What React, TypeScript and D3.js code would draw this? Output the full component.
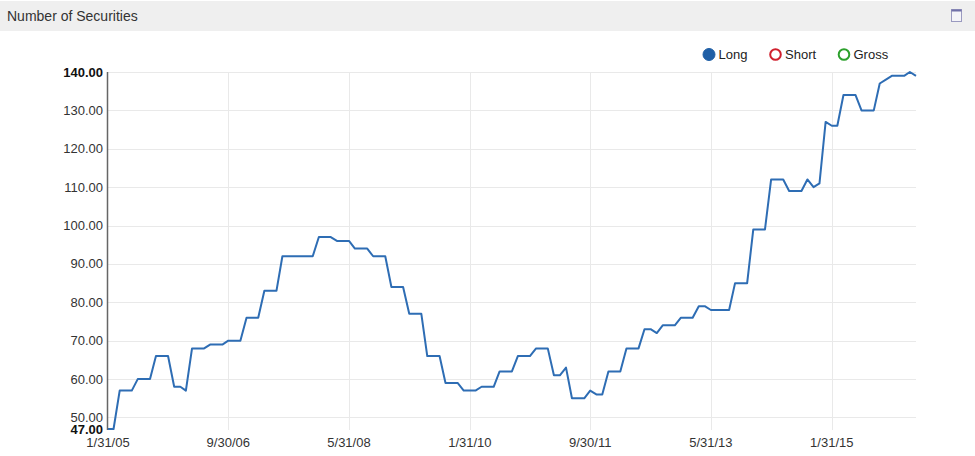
import React from "react";
import * as d3 from "d3";

const TITLE = "Number of Securities";
const START_MONTH_END = "2005-01-31";
const LONG_VALUES: number[] = [
  47, 47, 57, 57, 57, 60, 60, 60, 66, 66, 66, 58, 58, 57, 68, 68, 68, 69, 69, 69,
  70, 70, 70, 76, 76, 76, 83, 83, 83, 92, 92, 92, 92, 92, 92, 97, 97, 97, 96, 96,
  96, 94, 94, 94, 92, 92, 92, 84, 84, 84, 77, 77, 77, 66, 66, 66, 59, 59, 59, 57,
  57, 57, 58, 58, 58, 62, 62, 62, 66, 66, 66, 68, 68, 68, 61, 61, 63, 55, 55, 55,
  57, 56, 56, 62, 62, 62, 68, 68, 68, 73, 73, 72, 74, 74, 74, 76, 76, 76, 79, 79,
  78, 78, 78, 78, 85, 85, 85, 99, 99, 99, 112, 112, 112, 109, 109, 109, 112, 110, 111, 127,
  126, 126, 134, 134, 134, 130, 130, 130, 137, 138, 139, 139, 139, 140, 139,
];
const X_TICK_LABELS = ["1/31/05", "9/30/06", "5/31/08", "1/31/10", "9/30/11", "5/31/13", "1/31/15"];
const Y_TICKS = [47, 50, 60, 70, 80, 90, 100, 110, 120, 130, 140];
const LEGEND = [
  { name: "Long", color: "#1f5fa6", filled: true },
  { name: "Short", color: "#d0202e", filled: false },
  { name: "Gross", color: "#2ca02c", filled: false },
];

const W = 975;
const H = 456;
const M = { left: 108, right: 916, top: 72, bottom: 429 };
const FONT = "Arial, 'Liberation Sans', sans-serif";

export default function App() {
  const parse = d3.timeParse("%Y-%m-%d");
  const start = parse(START_MONTH_END)!;
  // month-end dates for each observation (category axis)
  const dates = LONG_VALUES.map((_, i) => {
    const firstOfNext = d3.timeMonth.offset(d3.timeMonth.floor(start), i + 1);
    return d3.timeDay.offset(firstOfNext, -1);
  });
  const data = LONG_VALUES.map((v, i) => ({ date: dates[i], value: v }));

  const x = d3
    .scaleTime()
    .domain([dates[0], dates[dates.length - 1]])
    .range([M.left, M.right]);
  const y = d3.scaleLinear().domain([47, 140]).range([M.bottom, M.top]);

  const parseTick = d3.timeParse("%m/%d/%y");
  const xTicks = X_TICK_LABELS.map((l) => ({ label: l, date: parseTick(l)! }));

  const line = d3
    .line<{ date: Date; value: number }>()
    .x((d) => x(d.date))
    .y((d) => y(d.value));

  return (
    <svg
      width={W}
      height={H}
      style={{ position: "absolute", left: 0, top: 0, background: "#fff" }}
      fontFamily={FONT}
    >
      {/* header */}
      <rect x={0} y={1} width={W} height={30} fill="#efefef" />
      <text x={7} y={21} fontSize={14} fill="#333">
        {TITLE}
      </text>
      <rect x={951.5} y={9.5} width={10} height={12} fill="#f4f4f8" stroke="#9a9ac0" strokeWidth={1} />
      <rect x={951.5} y={9.5} width={10} height={2} fill="#7070a8" />

      {/* horizontal grid */}
      {Y_TICKS.filter((t) => t !== 47).map((t) => (
        <line key={"hg" + t} x1={M.left} x2={M.right} y1={Math.round(y(t)) + 0.5} y2={Math.round(y(t)) + 0.5} stroke="#e9e9e9" />
      ))}
      {/* vertical grid */}
      {xTicks.slice(1).map((t) => (
        <line key={"vg" + t.label} x1={Math.round(x(t.date)) + 0.5} x2={Math.round(x(t.date)) + 0.5} y1={M.top} y2={M.bottom + 1} stroke="#e9e9e9" />
      ))}

      {/* y axis line */}
      <line x1={107.5} x2={107.5} y1={M.top} y2={M.bottom + 1} stroke="#666" strokeWidth={1.5} />

      {/* y tick labels */}
      {Y_TICKS.map((t) => (
        <text
          key={"yl" + t}
          x={103}
          y={y(t)}
          dy="0.35em"
          textAnchor="end"
          fontSize={13}
          fontWeight={t === 47 || t === 140 ? "bold" : "normal"}
          fill={t === 47 || t === 140 ? "#111" : "#333"}
        >
          {t.toFixed(2)}
        </text>
      ))}

      {/* x tick labels */}
      {xTicks.map((t) => (
        <text key={"xl" + t.label} x={x(t.date)} y={447} textAnchor="middle" fontSize={13} fill="#333">
          {t.label}
        </text>
      ))}

      {/* data line */}
      <path d={line(data) ?? ""} fill="none" stroke="#2e6db4" strokeWidth={2} strokeLinejoin="round" />

      {/* legend */}
      {(() => {
        const centers = [709, 775.5, 844];
        return LEGEND.map((l, i) => (
          <g key={l.name}>
            <circle
              cx={centers[i]}
              cy={54.5}
              r={l.filled ? 6 : 5.3}
              fill={l.filled ? l.color : "#fff"}
              stroke={l.color}
              strokeWidth={l.filled ? 1 : 2}
            />
            <text x={centers[i] + 9.5} y={59} fontSize={13} fill="#222">
              {l.name}
            </text>
          </g>
        ));
      })()}
    </svg>
  );
}
